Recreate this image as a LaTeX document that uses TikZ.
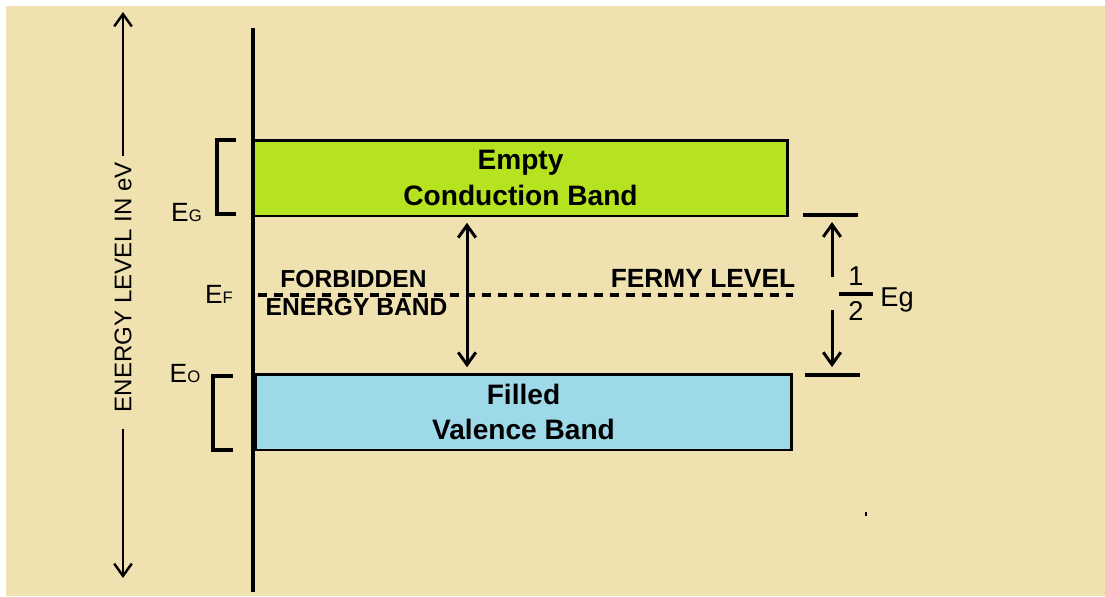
\documentclass[tikz,border=0pt]{standalone}
\usepackage{fontspec}
\setmainfont{Liberation Sans}
\usepackage{tikz}
\usetikzlibrary{positioning,calc,arrows.meta}

\definecolor{paper}{RGB}{239,226,176}
\definecolor{condgreen}{RGB}{181,227,31}
\definecolor{valblue}{RGB}{157,217,232}

\newcommand{\elevel}[1]{E{\fontsize{9.5}{10}\selectfont #1}}

\tikzset{
  band/.style={draw, line width=1.7pt, minimum height=1.52cm, inner sep=0pt,
    align=center, font=\bfseries\fontsize{16}{20}\selectfont},
  arr/.style={line width=1.7pt},
  edge/.style={line width=1.8pt},
  smalltxt/.style={font=\bfseries\fontsize{14}{15}\selectfont, anchor=base},
  elbl/.style={font=\fontsize{15}{16}\selectfont, anchor=base, inner sep=0pt}
}

\begin{document}
\begin{tikzpicture}[x=0.02cm, y=-0.02cm, >={Straight Barb[length=7pt,width=10pt]}]
    \useasboundingbox (0,0) rectangle (1105,596);
    \fill[white] (0,0) rectangle (1105,596);
    \fill[paper] (6,6) rectangle (1105,596);

      % Bands
      \node[band, fill=condgreen, minimum width=10.7cm] (cb) at (520.5,178) {Empty\\Conduction Band};
      \node[band, fill=valblue, minimum width=10.74cm] (vb) at (523.5,412) {Filled\\Valence Band};

      % Axis
      \coordinate (axtop) at (253,28);
      \coordinate (axbot) at (253,592);
      \draw[line width=2.6pt] (axtop) -- (axbot);

      % Energy scale
      \node[font=\fontsize{13.7}{14}\selectfont, rotate=90] (scale) at (123,287) {ENERGY LEVEL IN eV};
      \coordinate (sctop) at (123,12);
      \coordinate (scbot) at (123,578);
      \draw[line width=1.4pt, ->] (scale.east) -- (sctop);
      \draw[line width=1.4pt, ->, shorten <=6pt] (scale.west) -- (scbot);

      % Brackets
      \draw[edge] (236,140) -- (217,140) -- (217,214) -- (236,214);
      \draw[edge] (233,376) -- (213,376) -- (213,450) -- (233,450);

      % Levels
      \node[elbl] (eg) at (186.5,221) {\elevel{G}};
      \node[elbl] (ef) at (219,303) {\elevel{F}};
      \node[elbl] (eo) at (185,382) {\elevel{O}};

      % Fermi level
      \coordinate (fl) at (258,295);
      \coordinate (fr) at (793,295);
      \draw[line width=2pt, dash pattern=on 5.1pt off 4pt] (fl) -- (fr);
      \node[smalltxt] (forb) at (353.5,287) {FORBIDDEN};
      \node[smalltxt] (eband) at (356.5,315) {ENERGY BAND};
      \node[smalltxt, font=\bfseries\fontsize{15}{16}\selectfont] (fermy) at (703,287) {FERMY LEVEL};

      % Gap
      \coordinate (mid) at (467,0);
      \draw[arr, <->, shorten <=3pt, shorten >=3pt] (cb.south -| mid) -- (vb.north -| mid);

      % Half gap
      \coordinate (gtl) at (803,215);
      \coordinate (gtr) at (858,215);
      \coordinate (gbl) at (805,375);
      \coordinate (gbr) at (860,375);
      \draw[edge] (gtl) -- (gtr);
      \draw[edge] (gbl) -- (gbr);
      \coordinate (up) at (832,277);
      \coordinate (dn) at (832,310);
      \draw[arr, ->, shorten >=4pt] (up) -- (gtl -| up);
      \draw[arr, ->, shorten >=4.5pt] (dn) -- (gbl -| dn);
      \node[font=\fontsize{15.5}{16}\selectfont] (one) at (856,276) {1};
      \node[font=\fontsize{15.5}{16}\selectfont] (two) at (856,311) {2};
      \coordinate (barl) at (839,294);
      \coordinate (barr) at (873,294);
      \draw[edge] (barl) -- (barr);
      \node[font=\fontsize{15.5}{16}\selectfont, anchor=base] (egap) at (897,306) {Eg};

      % Speck
      \fill (865,512) rectangle (867,516);
  \end{tikzpicture}
\end{document}
